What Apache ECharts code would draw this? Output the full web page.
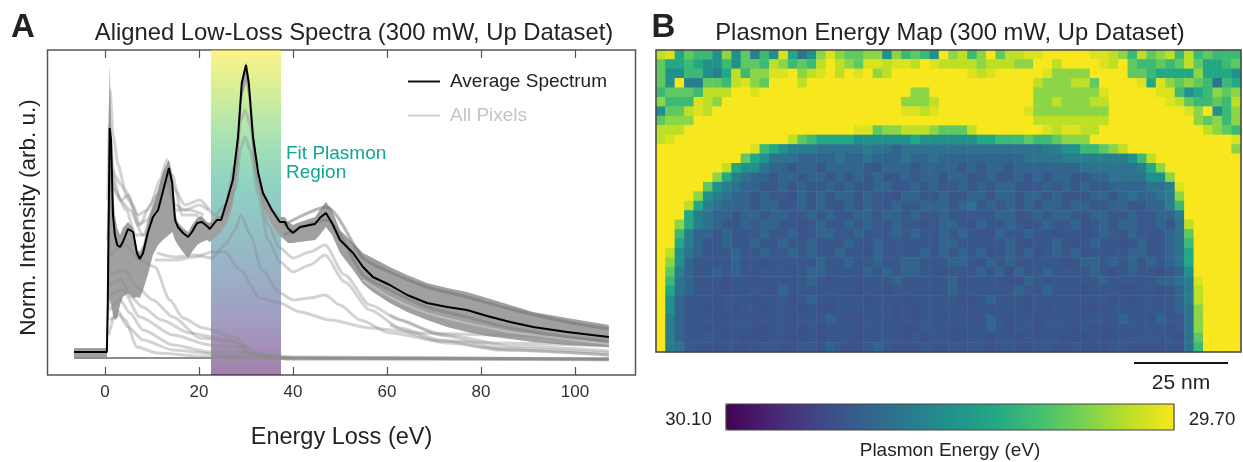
<!DOCTYPE html>
<html>
<head>
<meta charset="utf-8">
<script src="https://cdn.jsdelivr.net/npm/echarts@6/dist/echarts.min.js"></script>
<style>
  html, body { margin: 0; padding: 0; background: #fff; }
  #main { width: 1243px; height: 462px; }
</style>
</head>
<body>
<div id="main"></div>
<script>
const xTicks = [0, 20, 40, 60, 80, 100];
const fitRegion = [22.55, 37.45];
const barEnds = ['30.10', '29.70'];

// shared energy grid (eV) of the average spectrum and the dense band
const energy = [-6.6, 0.4, 0.6, 1.0, 1.3, 1.7, 2.1, 2.6, 3.2, 3.8, 4.9, 6.0, 6.8, 7.4, 8.1, 9.1, 10.2, 11.3, 12.3, 13.6, 14.3, 14.9, 15.5, 16.6, 17.7, 18.5, 19.6, 20.6, 21.7, 22.3, 23.8, 24.7, 26.0, 27.2, 28.3, 29.1, 30.0, 30.6, 31.5, 32.6, 33.6, 35.5, 37.2, 38.3, 38.9, 40.0, 41.5, 44.7, 45.7, 47.0, 48.3, 50.0, 52.8, 54.9, 57.0, 60.6, 64.3, 68.5, 72.8, 77.0, 81.3, 86.2, 91.1, 98.3, 107.2];
const average = [23, 23, 75, 247, 235, 160, 140, 130, 128, 133, 146, 143, 122, 116, 122, 142, 158, 165, 183, 207, 192, 155, 148, 142, 138, 143, 152, 153, 149, 146, 155, 155, 175, 195, 238, 292, 310, 292, 238, 202, 182, 165, 153, 153, 147, 142, 148, 151, 157, 162, 152, 135, 122, 108, 98, 90, 80, 72, 68, 65, 59, 53, 48, 43, 38];
const bandTop = [27, 27, 175, 311, 250, 185, 160, 147, 140, 147, 153, 147, 125, 123, 130, 150, 170, 185, 203, 215, 200, 163, 153, 147, 143, 150, 157, 159, 153, 152, 159, 159, 178, 199, 242, 295, 313, 295, 242, 205, 185, 168, 158, 158, 153, 150, 153, 158, 165, 173, 165, 145, 132, 122, 117, 108, 100, 92, 87, 83, 77, 70, 63, 57, 50];
const bandBottom = [18, 18, 40, 75, 70, 60, 55, 57, 70, 78, 82, 77, 78, 77, 85, 100, 120, 130, 135, 140, 143, 135, 130, 123, 117, 123, 130, 133, 135, 133, 139, 143, 153, 170, 210, 275, 293, 275, 215, 185, 170, 150, 139, 135, 132, 132, 133, 135, 140, 148, 140, 122, 105, 91, 83, 72, 63, 55, 48, 43, 39, 36, 33, 30, 28];

// single pixel spectra that stand out from the band, [energy, intensity]
const pixelA = [[0.6, 175], [1.1, 285], [1.7, 240], [2.8, 210], [4.3, 185], [6, 170], [7.4, 150], [9.6, 170], [11.7, 195], [13.2, 215], [14.9, 185], [17, 170], [20.2, 175], [23.4, 160], [25.5, 170], [27.7, 210], [28.9, 255], [29.8, 265], [30.9, 250], [32.6, 195], [34.7, 150], [37.2, 127], [40, 117], [43.6, 123], [46.8, 130], [51, 100], [56.4, 70], [62.8, 55], [71.3, 40], [84, 27], [107.2, 22]];
const pixelB = [[0.6, 135], [1.5, 205], [3.2, 175], [5.3, 165], [8.1, 140], [10.6, 170], [12.8, 200], [14.3, 200], [16.4, 160], [19.1, 160], [22.3, 150], [25.5, 160], [27.7, 185], [28.9, 227], [29.8, 238], [30.9, 225], [32.6, 180], [34.7, 135], [37.2, 113], [40, 103], [43.6, 110], [46.8, 120], [51, 93], [56.4, 65], [62.8, 47], [71.3, 35], [84, 25], [107.2, 20]];
const pixelC = [[11.1, 122], [14.9, 118], [19.1, 120], [22.8, 117], [25.5, 130], [27.7, 145], [28.9, 160], [30.9, 140], [33.4, 105], [37.2, 82], [40, 75], [43.6, 77], [46.8, 80], [50, 70], [54.3, 55], [60.6, 42], [71.3, 34], [84, 32], [107.2, 29]];
const pixelD = [[10.6, 115], [14.9, 115], [19.1, 118], [22.8, 123], [25.5, 123], [28.7, 105], [33, 77], [37.2, 72], [41.5, 63], [47.9, 55], [56.4, 47], [67, 42], [84, 40], [107.2, 35]];
const pixelE = [[1.1, 120], [4.3, 130], [7.4, 115], [10.6, 108], [13.8, 75], [16.6, 57], [20.9, 47], [28.1, 37], [30.9, 23], [36.6, 18], [107.2, 16]];
const pixelF = [[1.1, 100], [4.3, 105], [6.8, 88], [10.2, 75], [14.5, 58], [20.2, 37], [28.1, 33], [30.9, 22], [37.2, 17], [107.2, 15]];
const pixelG = [[1.0, 80], [3.8, 85], [7.4, 58], [14.5, 40], [22.3, 30], [28.1, 28], [31.5, 20], [39.4, 16], [107.2, 16]];
const pixelH = [[1.0, 65], [3.2, 75], [5.3, 62], [8.1, 45], [14.5, 30], [22.3, 23], [28.7, 23], [32.3, 18], [39.4, 16], [107.2, 16]];
const pixelI = [[0.8, 40], [2.5, 65], [4.3, 55], [6.8, 28], [11.1, 22], [22.3, 18], [107.2, 16]];
const pixelJ = [[1.0, 55], [3, 60], [4.9, 48], [8.1, 35], [14.5, 25], [25.1, 20], [33, 17], [107.2, 16]];
const pixelK = [[1.0, 90], [3.5, 95], [5.5, 78], [8, 68], [12, 55], [18, 42], [26, 35], [30, 28], [33, 20], [40, 17]];
const pixelL = [[60.6, 60], [72.8, 40], [86.2, 29], [107.2, 24]];
const pixelM = [[60.6, 50], [72.8, 32], [86.2, 25], [107.2, 20]];
const pixelN = [[0.9, 250], [2, 200], [3.5, 190], [5, 175], [7, 160], [9, 165], [11, 180], [13, 205], [15, 170], [17, 165], [20, 170], [22, 165]];
const pixelO = [[1, 220], [2.2, 185], [3.5, 175], [5, 180], [7, 150], [9, 155], [11, 170], [13, 195], [15, 165], [18, 165], [21, 160]];
const pixelP = [[1.1, 200], [2.5, 180], [4.5, 165], [6.5, 140], [8.5, 140], [10, 160], [12, 185], [13.6, 195]];
const baseline = [[-6.6, 17], [0.4, 17], [20, 17], [107.2, 16]];
const streakDark = [[38, 150], [47, 168], [54.9, 117], [60.6, 103], [68.5, 88], [77, 78], [86.2, 66], [98.3, 53], [107.2, 46]];
const streakMid = [[38, 140], [47, 155], [54.9, 100], [60.6, 85], [68.5, 68], [77, 58], [86.2, 47], [98.3, 38], [107.2, 33]];
const streakPale = [[54.9, 95], [60.6, 78], [68.5, 62], [77, 52], [86.2, 43], [98.3, 36], [107.2, 31]];
const allPixels = [pixelA, pixelB, pixelC, pixelD, pixelE, pixelF, pixelG, pixelH, pixelI, pixelJ, pixelK, pixelL, pixelM, pixelN, pixelO, pixelP];

// plasmon map, one hex digit per cell, digit -> eV through levelEnergy
const levelEnergy = [30.10, 30.07, 30.04, 30.00, 29.99, 29.97, 29.95, 29.93, 29.90, 29.86, 29.83, 29.80, 29.77, 29.74, 29.72, 29.70];
const mapRows = [
  'de9baa8c8b 7a8e968cec bbcc8caba8 fcdacfbdde efffffeedc adbcdadaba aa',
  'b99a988a8b badcabadfd cbeedeedfe ddddcdddcc ffdffffedf baababdb99 ab',
  'b88aa879da cceefcdefd fefcdfffff fffedeffff feccccffff bba9999c99 98',
  'b8f77bbade cbfffdffff ffffffffff ffffffffff dcccddbfff fe9ecbcba6 a9',
  'abbbadddff efffffffff fffffffccf ffffffffff ccccccceff fffeea89ac bc',
  'caaaedcfff ffffffffff ffffffcccd ffffffffff ccdcccddff ffffedbaab ad',
  '8bbdedffff ffffffffff ffffffeede fffffffffe ccccccccff ffffffecf8 ac',
  'bcccffffff ffffffffff ffffffffff ffffffffff ddddddddff fffffffcbc ac',
  'dddfffffff ffffffffff feebccdddc bbbdffffff fedeeddfff ffffffffdc ba',
  'deffffffff ffffdba999 9888888988 888899aaab aabcccffff ffffffffff fe',
  'ffffffffff ea98777666 6676656666 6666666666 67788aabcd ffffffffff fc',
  'fffffffffb 9866655556 5565556556 5555555556 6667777777 8adfffffff ff',
  'fffffffd98 8655455455 5544555455 5545455455 5555566666 679cffffff ff',
  'ffffffc976 5545545545 4545445455 4554454454 5455445566 6688cfffff ff',
  'fffffb8765 5445454454 5445544545 4454545544 4545454455 55667effff ff',
  'ffffc87655 4544354545 5454435544 5445545545 5454445545 65567cffff ff',
  'fffd976555 4554454543 5454454455 5456454545 4554554455 44557affff ff',
  'fff9765545 5455445454 4554554544 5444445544 5455445544 544557ffff ff',
  'ffc9765445 4554434544 5454454434 5543544543 4544534545 544546dfff ff',
  'ffa7554544 4544534554 4544454544 5454335445 4434434544 544456bfff ff',
  'ff97544544 5445445444 5445444444 5544444543 4454345443 454456afff ff',
  'fd86544454 4544545445 4435444454 5454534545 3454534444 5544569fff ff',
  'fc85444454 4344444544 5445445544 4554354544 4443455454 5454569fff ff',
  'fb75445454 4444445544 4454545544 3444545354 4544445434 5443458fff ff',
  'fa65444344 3444445434 4344454444 4534444335 4444444544 4445567eff ff',
  'f965444344 4435444444 4344344444 4544444454 4544434443 3443457dff ff',
  'f854443444 3444345434 4434443444 4433454443 4444444434 3444457dff ff',
  'f854433434 4344434334 4444434344 4444434443 4344433344 4444456cff ff',
  'f754443344 3444344454 3344434344 3443354344 3444344445 4435446cff ff',
  'f754434344 3344434344 4344443344 4344454344 3444343344 4444346cff ff',
  'f754444343 3344334344 4344443434 4334434434 4443334334 4444436bff ff',
  'f764433433 3443344354 3345433344 3444434433 4433433344 3333436aff ff'
];

const viridis = ['#440154', '#482475', '#414487', '#355f8d', '#2a788e', '#21918c', '#22a884', '#44bf70', '#7ad151', '#bddf26', '#f8e71c'];

const heatData = [];
const colNames = [];
mapRows.forEach(function (row, r) {
  row.replace(/ /g, '').split('').forEach(function (ch, c) {
    heatData.push([c, r, levelEnergy[parseInt(ch, 16)]]);
    if (r === 0) colNames.push(c);
  });
});
const rowNames = mapRows.map(function (r, i) { return i; });

const pair = function (ys) { return energy.map(function (e, i) { return [e, ys[i]]; }); };
const bandData = energy.map(function (e, i) { return [e, bandTop[i], bandBottom[i]]; });

const series = [
  {
    type: 'heatmap', xAxisIndex: 2, yAxisIndex: 1, data: heatData, progressive: 0,
    itemStyle: { borderWidth: 0 }, emphasis: { disabled: true }, silent: true
  },
  {
    // dense band of pixels: one polygon through the top and bottom envelopes
    type: 'custom', name: 'band', data: bandData, silent: true, z: 2, clip: true,
    encode: { x: 0, y: [1, 2] },
    renderItem: function (params, api) {
      if (params.dataIndex !== 0) return;
      const up = bandData.map(function (d) { return api.coord([d[0], d[1]]); });
      const low = bandData.map(function (d) { return api.coord([d[0], d[2]]); }).reverse();
      return { type: 'polygon', shape: { points: up.concat(low) }, style: { fill: '#a0a0a0' } };
    }
  }
];
allPixels.forEach(function (d) {
  series.push({
    type: 'line', name: 'All Pixels', data: d, symbol: 'none', silent: true, z: 3,
    smooth: 0.25, smoothMonotone: 'x',
    itemStyle: { color: '#cfcfcf' },
    lineStyle: { color: 'rgba(140,140,140,0.38)', width: 3 }
  });
});
series.push(
  { type: 'line', name: 'flat', data: baseline, symbol: 'none', silent: true, z: 3, lineStyle: { color: '#8e8e8e', width: 2 } },
  { type: 'line', name: 'streak1', data: streakDark, symbol: 'none', silent: true, z: 3, smooth: 0.25, lineStyle: { color: 'rgba(110,110,110,0.5)', width: 3 } },
  { type: 'line', name: 'streak2', data: streakMid, symbol: 'none', silent: true, z: 3, smooth: 0.25, lineStyle: { color: 'rgba(110,110,110,0.4)', width: 3 } },
  { type: 'line', name: 'streak3', data: streakPale, symbol: 'none', silent: true, z: 3, smooth: 0.25, lineStyle: { color: 'rgba(215,215,215,0.5)', width: 2 } },
  {
    type: 'line', name: 'Average Spectrum', data: pair(average), symbol: 'none', silent: true, z: 5,
    itemStyle: { color: '#111' }, lineStyle: { color: '#000', width: 2 }
  },
  {
    type: 'line', name: 'Fit Region', data: [], symbol: 'none', silent: true, z: 8,
    markArea: {
      silent: true,
      itemStyle: {
        opacity: 0.5,
        color: new echarts.graphic.LinearGradient(0, 0, 0, 1, viridis.slice().reverse().map(function (c, i) {
          return { offset: i / 10, color: c };
        }))
      },
      data: [[{ xAxis: fitRegion[0] }, { xAxis: fitRegion[1] }]]
    }
  }
);

const frameColor = '#555';
const font = '"Liberation Sans", Arial, sans-serif';
const head = function (text, left, top, size, weight) {
  return { text: text, left: left, top: top, textAlign: 'center', textStyle: { fontFamily: font, fontSize: size, fontWeight: weight || 'normal', color: '#222' } };
};

const myChart = echarts.init(document.getElementById('main'), null, { renderer: 'canvas' });
myChart.setOption({
  animation: false,
  backgroundColor: '#fff',
  title: [
    head('A', 18, 6, 33, 'bold'),
    head('B', 658.5, 6, 33, 'bold'),
    head('Aligned Low-Loss Spectra (300 mW, Up Dataset)', 349, 16, 23.8),
    head('Plasmon Energy Map (300 mW, Up Dataset)', 945, 16, 23.8),
    head('25 nm', 1176, 368, 21),
    head(barEnds[0], 683.5, 405, 18.6),
    head(barEnds[1], 1207, 405, 18.6),
    head('Plasmon Energy (eV)', 945, 436, 19)
  ],
  grid: [
    { left: 47.5, top: 50, width: 588, height: 325, show: true, borderColor: frameColor, borderWidth: 1.5, backgroundColor: '#fff' },
    { left: 656, top: 50, width: 585, height: 302 }
  ],
  xAxis: [
    {
      type: 'value', gridIndex: 0, min: -12.23, max: 112.87, splitLine: { show: false },
      axisLine: { show: false },
      axisTick: { inside: true, length: 8, customValues: xTicks, lineStyle: { color: frameColor, width: 1.2 } },
      axisLabel: { customValues: xTicks, fontFamily: font, fontSize: 17, color: '#333', margin: 9 },
      name: 'Energy Loss (eV)', nameLocation: 'middle', nameGap: 51,
      nameTextStyle: { fontFamily: font, fontSize: 23.5, color: '#222' }
    },
    {
      type: 'value', gridIndex: 0, position: 'top', min: -12.23, max: 112.87, splitLine: { show: false },
      axisLine: { show: false }, axisLabel: { show: false },
      axisTick: { inside: true, length: 8, customValues: xTicks, lineStyle: { color: frameColor, width: 1.2 } }
    },
    { type: 'category', gridIndex: 1, data: colNames, show: false }
  ],
  yAxis: [
    {
      type: 'value', gridIndex: 0, min: 0, max: 325, splitLine: { show: false },
      axisLine: { show: false }, axisTick: { show: false }, axisLabel: { show: false },
      name: 'Norm. Intensity (arb. u.)', nameLocation: 'middle', nameGap: 7,
      nameTextStyle: { fontFamily: font, fontSize: 22.5, color: '#222', padding: [0, 10, 0, 0] }
    },
    { type: 'category', gridIndex: 1, data: rowNames, inverse: true, show: false }
  ],
  legend: {
    left: 403, top: 67, orient: 'vertical', itemWidth: 32, itemHeight: 2, itemGap: 15,
    icon: 'rect', selectedMode: false,
    textStyle: { fontFamily: font, fontSize: 19, color: '#222', padding: [0, 0, 0, 5] },
    data: [
      { name: 'Average Spectrum', itemStyle: { color: '#111' } },
      { name: 'All Pixels', itemStyle: { color: '#cfcfcf' }, textStyle: { color: '#c4c4c4' } }
    ]
  },
  visualMap: {
    type: 'continuous', seriesIndex: 0, min: 29.70, max: 30.10, inverse: true,
    orient: 'horizontal', left: 711, top: 389, itemWidth: 26, itemHeight: 448,
    calculable: false, hoverLink: false, showLabel: false, text: null,
    inRange: { color: viridis.slice().reverse() }
  },
  graphic: [
    { type: 'rect', shape: { x: 656, y: 50, width: 585, height: 302 }, style: { fill: 'none', stroke: '#444', lineWidth: 1.5 }, silent: true, z: 20 },
    { type: 'rect', shape: { x: 726, y: 404, width: 448, height: 26 }, style: { fill: 'none', stroke: '#444', lineWidth: 1.2 }, silent: true, z: 20 },
    { type: 'line', shape: { x1: 1134, y1: 363, x2: 1228, y2: 363 }, style: { stroke: '#111', lineWidth: 2 }, silent: true, z: 20 },
    { type: 'text', left: 286, top: 144, style: { text: 'Fit Plasmon\nRegion', fill: '#12a594', font: '19px ' + font, lineHeight: 19 }, silent: true, z: 20 }
  ],
  series: series
});
</script>
</body>
</html>
